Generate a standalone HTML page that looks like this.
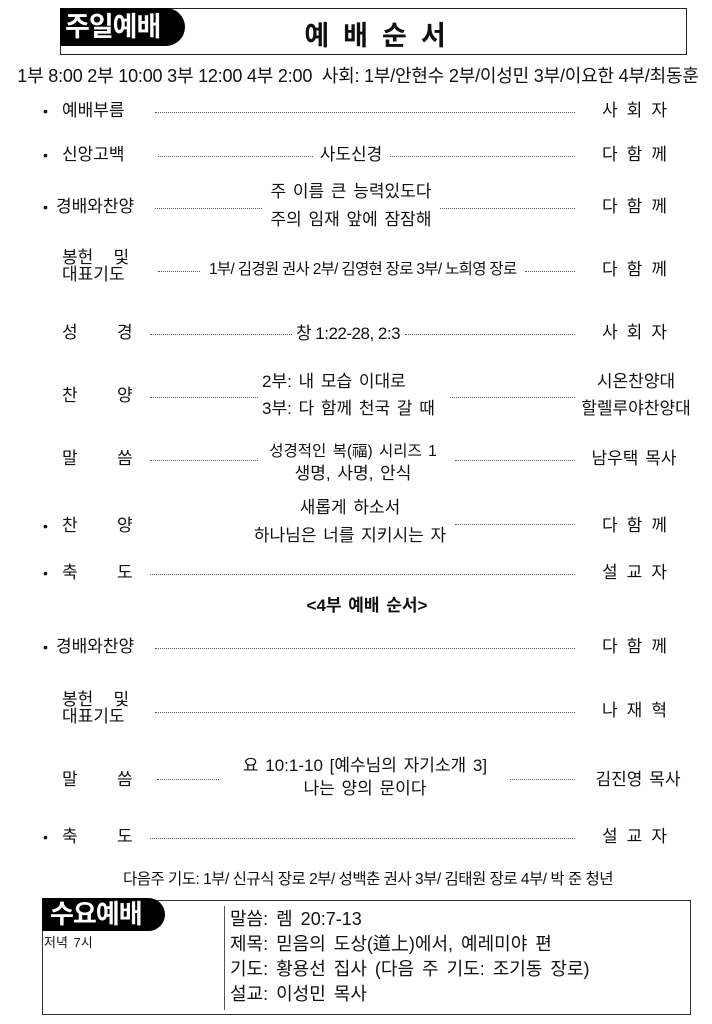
<!DOCTYPE html>
<html><head><meta charset="utf-8"><style>
body{margin:0;background:#fff;}
#p{position:relative;width:712px;height:1024px;overflow:hidden;font-family:"Liberation Sans","Noto Sans CJK KR",sans-serif;color:#111;}
.t{position:absolute;white-space:nowrap;font-size:17px;line-height:18px;word-spacing:2px;}
.c{transform:translateX(-50%);text-align:center;}
.r{letter-spacing:9px;}
.d{position:absolute;height:0;border-top:1.5px dotted #555;}
.bu{position:absolute;font-size:14px;line-height:18px;left:43px;}
</style></head><body><div id="p">
<div style="position:absolute;left:60px;top:8px;width:625px;height:45px;border:1px solid #222"></div>
<div style="position:absolute;left:60px;top:8px;width:125px;height:38px;background:#000;border-radius:0 20px 20px 0"></div>
<div class="t" style="left:65px;top:11px;font-size:27px;line-height:32px;color:#fff;font-weight:bold;letter-spacing:-1px;word-spacing:0">주일예배</div>
<div class="t c" style="left:382px;top:20px;font-size:27px;line-height:32px;font-weight:bold;letter-spacing:14px">예배순서</div>
<div class="t c" style="left:358px;top:67px;font-size:18px;letter-spacing:-0.2px;word-spacing:0">1부 8:00 2부 10:00 3부 12:00 4부 2:00 &nbsp;사회: 1부/안현수 2부/이성민 3부/이요한 4부/최동훈</div>

<div class="bu" style="top:102px">•</div><div class="t" style="left:62px;top:102px">예배부름</div>
<div class="d" style="left:155px;width:420px;top:112px"></div>
<div class="t c r" style="left:639px;top:102px">사회자</div>

<div class="bu" style="top:146px">•</div><div class="t" style="left:62px;top:146px">신앙고백</div>
<div class="d" style="left:158px;width:155px;top:156px"></div>
<div class="t c" style="left:351px;top:146px">사도신경</div>
<div class="d" style="left:390px;width:185px;top:156px"></div>
<div class="t c r" style="left:639px;top:146px">다함께</div>

<div class="bu" style="top:198px">•</div><div class="t" style="left:56px;top:198px">경배와찬양</div>
<div class="d" style="left:155px;width:107px;top:208px"></div>
<div class="t c" style="left:351px;top:183px">주 이름 큰 능력있도다</div>
<div class="t c" style="left:351px;top:211px">주의 임재 앞에 잠잠해</div>
<div class="d" style="left:440px;width:135px;top:208px"></div>
<div class="t c r" style="left:639px;top:198px">다함께</div>

<div class="t" style="left:62px;top:249px;line-height:17px">봉헌&nbsp;&nbsp; 및<br>대표기도</div>
<div class="d" style="left:158px;width:42px;top:271px"></div>
<div class="t" style="left:209px;top:261px;font-size:15.5px;letter-spacing:-0.7px;word-spacing:0">1부/ 김경원 권사 2부/ 김영현 장로 3부/ 노희영 장로</div>
<div class="d" style="left:525px;width:50px;top:271px"></div>
<div class="t c r" style="left:639px;top:261px">다함께</div>

<div class="t" style="left:62px;top:324px">성</div><div class="t" style="left:117px;top:324px">경</div>
<div class="d" style="left:150px;width:142px;top:334px"></div>
<div class="t c" style="left:348px;top:325px;letter-spacing:-0.5px;word-spacing:0">창 1:22-28, 2:3</div>
<div class="d" style="left:405px;width:170px;top:334px"></div>
<div class="t c r" style="left:639px;top:324px">사회자</div>

<div class="t" style="left:62px;top:387px">찬</div><div class="t" style="left:117px;top:387px">양</div>
<div class="d" style="left:150px;width:108px;top:397px"></div>
<div class="t" style="left:262px;top:373px">2부: 내 모습 이대로</div>
<div class="t" style="left:262px;top:400px">3부: 다 함께 천국 갈 때</div>
<div class="d" style="left:450px;width:125px;top:397px"></div>
<div class="t c" style="left:636px;top:373px">시온찬양대</div>
<div class="t c" style="left:636px;top:400px">할렐루야찬양대</div>

<div class="t" style="left:62px;top:450px">말</div><div class="t" style="left:117px;top:450px">씀</div>
<div class="d" style="left:150px;width:108px;top:460px"></div>
<div class="t c" style="left:353px;top:443px;font-size:15.5px">성경적인 복(福) 시리즈 1</div>
<div class="t c" style="left:353px;top:465px">생명, 사명, 안식</div>
<div class="d" style="left:455px;width:120px;top:460px"></div>
<div class="t c" style="left:634px;top:450px">남우택 목사</div>

<div class="bu" style="top:517px">•</div><div class="t" style="left:62px;top:517px">찬</div><div class="t" style="left:117px;top:517px">양</div>
<div class="t c" style="left:350px;top:499px">새롭게 하소서</div>
<div class="t c" style="left:350px;top:527px">하나님은 너를 지키시는 자</div>
<div class="d" style="left:455px;width:120px;top:524px"></div>
<div class="t c r" style="left:639px;top:517px">다함께</div>

<div class="bu" style="top:564px">•</div><div class="t" style="left:62px;top:564px">축</div><div class="t" style="left:117px;top:564px">도</div>
<div class="d" style="left:150px;width:425px;top:574px"></div>
<div class="t c r" style="left:639px;top:564px">설교자</div>

<div class="t c" style="left:367px;top:597px;font-weight:bold">&lt;4부 예배 순서&gt;</div>

<div class="bu" style="top:638px">•</div><div class="t" style="left:56px;top:638px">경배와찬양</div>
<div class="d" style="left:155px;width:420px;top:648px"></div>
<div class="t c r" style="left:639px;top:638px">다함께</div>

<div class="t" style="left:62px;top:691px;line-height:17px">봉헌&nbsp;&nbsp; 및<br>대표기도</div>
<div class="d" style="left:155px;width:420px;top:712px"></div>
<div class="t c r" style="left:639px;top:702px">나재혁</div>

<div class="t" style="left:62px;top:771px">말</div><div class="t" style="left:117px;top:771px">씀</div>
<div class="d" style="left:157px;width:62px;top:779px"></div>
<div class="t c" style="left:365px;top:757px">요 10:1-10 [예수님의 자기소개 3]</div>
<div class="t c" style="left:365px;top:780px">나는 양의 문이다</div>
<div class="d" style="left:510px;width:65px;top:779px"></div>
<div class="t c" style="left:638px;top:771px">김진영 목사</div>

<div class="bu" style="top:828px">•</div><div class="t" style="left:62px;top:828px">축</div><div class="t" style="left:117px;top:828px">도</div>
<div class="d" style="left:150px;width:425px;top:838px"></div>
<div class="t c r" style="left:639px;top:828px">설교자</div>

<div class="t c" style="left:368px;top:871px;font-size:15.5px;letter-spacing:-0.5px;word-spacing:0">다음주 기도: 1부/ 신규식 장로 2부/ 성백춘 권사 3부/ 김태원 장로 4부/ 박 준 청년</div>

<div style="position:absolute;left:42px;top:900px;width:647px;height:113px;border:1px solid #333"></div>
<div style="position:absolute;left:42px;top:898px;width:123px;height:33px;background:#000;border-radius:0 18px 18px 0"></div>
<div class="t" style="left:50px;top:899px;font-size:26px;line-height:30px;color:#fff;font-weight:bold;letter-spacing:-1px;word-spacing:0">수요예배</div>
<div class="t" style="left:44px;top:934px;font-size:13px">저녁 7시</div>
<div style="position:absolute;left:224px;top:906px;width:0;height:104px;border-left:1px solid #555"></div>
<div class="t" style="left:230px;top:910px;font-size:18px;word-spacing:3px">말씀: 렘 20:7-13</div>
<div class="t" style="left:230px;top:935px;font-size:18px;word-spacing:3px">제목: 믿음의 도상(道上)에서, 예레미야 편</div>
<div class="t" style="left:230px;top:960px;font-size:18px;word-spacing:3px">기도: 황용선 집사 (다음 주 기도: 조기동 장로)</div>
<div class="t" style="left:230px;top:985px;font-size:18px;word-spacing:3px">설교: 이성민 목사</div>
</div></body></html>
